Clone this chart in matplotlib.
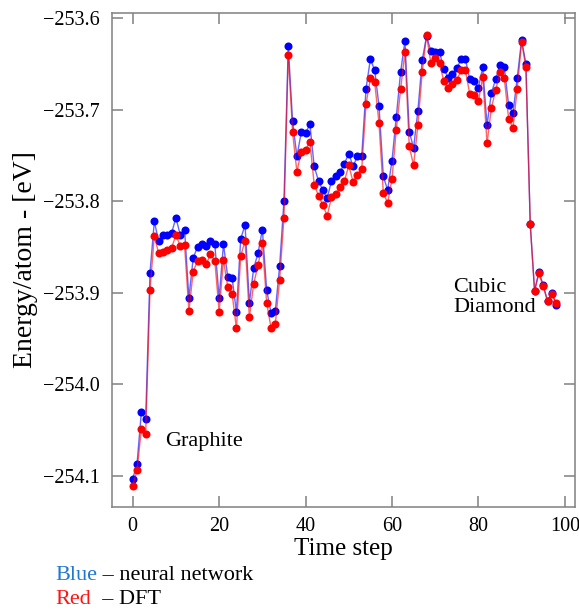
"""Energy per atom along a trajectory: neural network vs DFT."""

import matplotlib
import matplotlib.pyplot as plt
import numpy as np

matplotlib.use("Agg")

plt.rcParams["font.family"] = ["Liberation Serif", "DejaVu Serif"]

# time steps 0..98
steps = np.arange(99)

# neural network prediction (blue), eV/atom
nn_energy = [
    -254.103, -254.087, -254.030, -254.038, -253.878, -253.822, -253.844, -253.837,
    -253.837, -253.835, -253.818, -253.837, -253.831, -253.906, -253.862, -253.850,
    -253.847, -253.849, -253.843, -253.847, -253.906, -253.847, -253.883, -253.884,
    -253.921, -253.841, -253.826, -253.911, -253.873, -253.857, -253.831, -253.897,
    -253.922, -253.920, -253.871, -253.800, -253.631, -253.713, -253.751, -253.725,
    -253.726, -253.716, -253.762, -253.778, -253.788, -253.797, -253.778, -253.773,
    -253.768, -253.759, -253.748, -253.762, -253.751, -253.751, -253.677, -253.645,
    -253.657, -253.696, -253.773, -253.788, -253.756, -253.708, -253.659, -253.625,
    -253.724, -253.742, -253.701, -253.646, -253.620, -253.636, -253.637, -253.637,
    -253.656, -253.665, -253.661, -253.655, -253.645, -253.645, -253.667, -253.669,
    -253.676, -253.654, -253.717, -253.682, -253.667, -253.651, -253.654, -253.695,
    -253.704, -253.665, -253.624, -253.650, -253.825, -253.898, -253.877, -253.892,
    -253.909, -253.900, -253.913,
]

# DFT reference (red), eV/atom
dft_energy = [
    -254.111, -254.094, -254.049, -254.054, -253.897, -253.838, -253.857, -253.855,
    -253.853, -253.851, -253.837, -253.849, -253.848, -253.920, -253.877, -253.865,
    -253.864, -253.869, -253.858, -253.865, -253.921, -253.864, -253.894, -253.901,
    -253.939, -253.860, -253.843, -253.927, -253.890, -253.870, -253.846, -253.911,
    -253.938, -253.934, -253.886, -253.818, -253.640, -253.725, -253.768, -253.746,
    -253.744, -253.735, -253.782, -253.794, -253.804, -253.816, -253.796, -253.792,
    -253.785, -253.778, -253.761, -253.779, -253.771, -253.765, -253.694, -253.666,
    -253.670, -253.715, -253.791, -253.802, -253.776, -253.722, -253.678, -253.637,
    -253.740, -253.761, -253.717, -253.659, -253.619, -253.649, -253.644, -253.649,
    -253.669, -253.676, -253.672, -253.668, -253.657, -253.657, -253.683, -253.684,
    -253.691, -253.664, -253.737, -253.698, -253.679, -253.659, -253.666, -253.710,
    -253.720, -253.677, -253.626, -253.654, -253.825, -253.898, -253.879, -253.893,
    -253.909, -253.901, -253.911,
]

fig = plt.figure(figsize=(5.79, 6.10), dpi=100)
ax = fig.add_axes([0.1934, 0.1689, 0.8000, 0.8098])

ax.plot(steps, nn_energy, color="blue", lw=1.0, alpha=0.6, zorder=2)
ax.plot(steps, nn_energy, "o", color="blue", ms=5.8, mew=0, zorder=3)
ax.plot(steps, dft_energy, color="red", lw=1.0, alpha=0.6, zorder=4)
ax.plot(steps, dft_energy, "o", color="red", ms=5.8, mew=0, zorder=5)

ax.set_xlim(-4.8, 102.4)
ax.set_ylim(-254.134, -253.5945)
ax.set_xticks([0, 20, 40, 60, 80, 100])
ax.set_yticks([-254.1, -254.0, -253.9, -253.8, -253.7, -253.6])

for s in ax.spines.values():
    s.set_color("#808080")
    s.set_linewidth(1.1)
ax.tick_params(direction="in", length=8, width=1.1, color="#808080",
               top=True, right=True, labelsize=14.5)
ax.tick_params(axis="x", pad=7)
ax.tick_params(axis="y", pad=9)

ax.set_xlabel("Time step", fontsize=18, labelpad=2)
ax.set_ylabel("Energy/atom - [eV]", fontsize=20, labelpad=3)

ax.text(7.6, -254.063, "Graphite", fontsize=16, va="center", ha="left")
ax.text(74.1, -253.905, "Cubic\nDiamond", fontsize=16, va="center", ha="left",
        linespacing=1.1)

# colour key under the axes
t1 = fig.text(55 / 579, 1 - 576 / 610, "Blue", color="#1f78d2", fontsize=16,
              va="center")
ax.annotate(" \u2013 neural network", xy=(1, 0.5), xycoords=t1, va="center",
            fontsize=16, annotation_clip=False)
t2 = fig.text(55 / 579, 1 - 600 / 610, "Red", color="#ff1414", fontsize=16,
              va="center")
ax.annotate("  \u2013 DFT", xy=(1, 0.5), xycoords=t2, va="center",
            fontsize=16, annotation_clip=False)

fig.savefig("out.png", dpi=100)
plt.close(fig)
